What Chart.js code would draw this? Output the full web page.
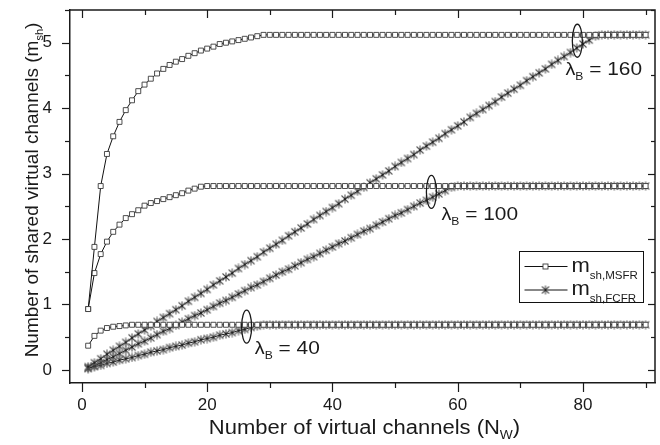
<!DOCTYPE html>
<html>
<head>
<meta charset="utf-8">
<script src="https://cdn.jsdelivr.net/npm/chart.js@4/dist/chart.umd.min.js"></script>
<style>
html,body{margin:0;padding:0;background:#fff;}
#wrap{width:660px;height:445px;position:relative;}
</style>
</head>
<body>
<div id="wrap"><canvas id="c" width="660" height="445"></canvas></div>
<script>
// ---------------- data ----------------
const channels = [
 1,2,3,4,5,6,7,8,9,10,
 11,12,13,14,15,16,17,18,19,20,
 21,22,23,24,25,26,27,28,29,30,
 31,32,33,34,35,36,37,38,39,40,
 41,42,43,44,45,46,47,48,49,50,
 51,52,53,54,55,56,57,58,59,60,
 61,62,63,64,65,66,67,68,69,70,
 71,72,73,74,75,76,77,78,79,80,
 81,82,83,84,85,86,87,88,89,90];

// m_sh,MSFR (squares)
const msfr40 = [
 0.37,0.52,0.60,0.64,0.66,0.67,0.68,0.69,0.69,0.69,
 0.69,0.69,0.69,0.69,0.69,0.69,0.69,0.69,0.69,0.69,
 0.69,0.69,0.69,0.69,0.69,0.69,0.69,0.69,0.69,0.69,
 0.69,0.69,0.69,0.69,0.69,0.69,0.69,0.69,0.69,0.69,
 0.69,0.69,0.69,0.69,0.69,0.69,0.69,0.69,0.69,0.69,
 0.69,0.69,0.69,0.69,0.69,0.69,0.69,0.69,0.69,0.69,
 0.69,0.69,0.69,0.69,0.69,0.69,0.69,0.69,0.69,0.69,
 0.69,0.69,0.69,0.69,0.69,0.69,0.69,0.69,0.69,0.69,
 0.69,0.69,0.69,0.69,0.69,0.69,0.69,0.69,0.69,0.69];
const msfr100 = [
 0.93,1.48,1.77,1.96,2.11,2.22,2.32,2.38,2.44,2.51,
 2.55,2.58,2.61,2.64,2.67,2.70,2.74,2.77,2.80,2.81,
 2.81,2.81,2.81,2.81,2.81,2.81,2.81,2.81,2.81,2.81,
 2.81,2.81,2.81,2.81,2.81,2.81,2.81,2.81,2.81,2.81,
 2.81,2.81,2.81,2.81,2.81,2.81,2.81,2.81,2.81,2.81,
 2.81,2.81,2.81,2.81,2.81,2.81,2.81,2.81,2.81,2.81,
 2.81,2.81,2.81,2.81,2.81,2.81,2.81,2.81,2.81,2.81,
 2.81,2.81,2.81,2.81,2.81,2.81,2.81,2.81,2.81,2.81,
 2.81,2.81,2.81,2.81,2.81,2.81,2.81,2.81,2.81,2.81];
const msfr160 = [
 0.93,1.88,2.81,3.30,3.57,3.79,3.97,4.12,4.26,4.36,
 4.45,4.53,4.60,4.66,4.71,4.75,4.80,4.84,4.88,4.91,
 4.94,4.98,5.00,5.02,5.04,5.06,5.08,5.10,5.12,5.12,
 5.12,5.12,5.12,5.12,5.12,5.12,5.12,5.12,5.12,5.12,
 5.12,5.12,5.12,5.12,5.12,5.12,5.12,5.12,5.12,5.12,
 5.12,5.12,5.12,5.12,5.12,5.12,5.12,5.12,5.12,5.12,
 5.12,5.12,5.12,5.12,5.12,5.12,5.12,5.12,5.12,5.12,
 5.12,5.12,5.12,5.12,5.12,5.12,5.12,5.12,5.12,5.12,
 5.12,5.12,5.12,5.12,5.12,5.12,5.12,5.12,5.12,5.12];

// m_sh,FCFR (asterisks)
const fcfr40 = [
 0.03,0.05,0.07,0.10,0.12,0.15,0.17,0.19,0.22,0.24,
 0.27,0.29,0.31,0.34,0.36,0.38,0.41,0.43,0.46,0.48,
 0.50,0.53,0.55,0.57,0.60,0.62,0.65,0.67,0.69,0.69,
 0.69,0.69,0.69,0.69,0.69,0.69,0.69,0.69,0.69,0.69,
 0.69,0.69,0.69,0.69,0.69,0.69,0.69,0.69,0.69,0.69,
 0.69,0.69,0.69,0.69,0.69,0.69,0.69,0.69,0.69,0.69,
 0.69,0.69,0.69,0.69,0.69,0.69,0.69,0.69,0.69,0.69,
 0.69,0.69,0.69,0.69,0.69,0.69,0.69,0.69,0.69,0.69,
 0.69,0.69,0.69,0.69,0.69,0.69,0.69,0.69,0.69,0.69];
const fcfr100 = [
 0.02,0.06,0.11,0.16,0.20,0.25,0.30,0.35,0.40,0.44,
 0.49,0.54,0.59,0.63,0.68,0.73,0.78,0.83,0.87,0.92,
 0.97,1.02,1.06,1.11,1.16,1.21,1.26,1.30,1.35,1.40,
 1.45,1.50,1.54,1.59,1.64,1.69,1.73,1.78,1.83,1.88,
 1.93,1.97,2.02,2.07,2.12,2.16,2.21,2.26,2.31,2.36,
 2.40,2.45,2.50,2.55,2.59,2.64,2.69,2.74,2.79,2.81,
 2.81,2.81,2.81,2.81,2.81,2.81,2.81,2.81,2.81,2.81,
 2.81,2.81,2.81,2.81,2.81,2.81,2.81,2.81,2.81,2.81,
 2.81,2.81,2.81,2.81,2.81,2.81,2.81,2.81,2.81,2.81];
const fcfr160 = [
 0.05,0.11,0.17,0.24,0.30,0.36,0.42,0.49,0.55,0.61,
 0.67,0.74,0.80,0.86,0.92,0.98,1.05,1.11,1.17,1.23,
 1.30,1.36,1.42,1.48,1.55,1.61,1.67,1.73,1.80,1.86,
 1.92,1.98,2.05,2.11,2.17,2.23,2.30,2.36,2.42,2.48,
 2.54,2.61,2.67,2.73,2.79,2.86,2.92,2.98,3.04,3.11,
 3.17,3.23,3.29,3.36,3.42,3.48,3.54,3.61,3.67,3.73,
 3.79,3.86,3.92,3.98,4.04,4.10,4.17,4.23,4.29,4.35,
 4.42,4.48,4.54,4.60,4.67,4.73,4.79,4.85,4.92,4.98,
 5.04,5.10,5.12,5.12,5.12,5.12,5.12,5.12,5.12,5.12];

const lambdaValues = ['40', '100', '160'];
const xTitle = ['Number of virtual channels (N', 'W', ')'];
const yTitle = ['Number of shared virtual channels (m', 'sh', ')'];
const legendNames = [['m', 'sh,MSFR'], ['m', 'sh,FCFR']];

// ---------------- styling ----------------
const FONT = '"Liberation Sans", Arial, Helvetica, sans-serif';
const INK = '#1a1a1a';
const STRETCH = 1.1;

function makeAsterisk(size, color) {
  const c = document.createElement('canvas');
  c.width = size; c.height = size;
  const g = c.getContext('2d');
  const m = size / 2, r = size / 2 - 0.5, d = r * 0.78;
  g.strokeStyle = color; g.lineWidth = 1.1;
  g.beginPath();
  g.moveTo(m, m - r); g.lineTo(m, m + r);
  g.moveTo(m - d, m - d); g.lineTo(m + d, m + d);
  g.moveTo(m + d, m - d); g.lineTo(m - d, m + d);
  g.stroke();
  g.fillStyle = '#222';
  g.fillRect(m - 1, m - 1, 2, 2);
  return c;
}
const astImg = makeAsterisk(10, '#555');

const pts = arr => channels.map((n, i) => ({x: n, y: arr[i]}));

const squareDS = (label, arr) => ({
  label, data: pts(arr), showLine: true,
  borderColor: '#111', borderWidth: 1, tension: 0,
  pointStyle: 'rect', pointRadius: 3.5, pointHoverRadius: 3.5,
  pointBackgroundColor: '#fff', pointBorderColor: '#3a3a3a', pointBorderWidth: 0.9
});
const starDS = (label, arr) => ({
  label, data: pts(arr), showLine: true,
  borderColor: '#111', borderWidth: 1, tension: 0,
  pointStyle: astImg, pointRadius: 4, pointHoverRadius: 4
});

// annotation placement (data units) for the lambda_B markers
const lambdaNotes = [
  {cx: 26.3, cy: 0.66, lx: 27.6, ly: 0.24},
  {cx: 55.8, cy: 2.72, lx: 57.4, ly: 2.29},
  {cx: 79.1, cy: 5.03, lx: 77.2, ly: 4.51}
];

function drawRich(ctx, parts, x, y, align, stretch) {
  let w = 0;
  for (const p of parts) { ctx.font = p.size + 'px ' + FONT; w += ctx.measureText(p.t).width; }
  ctx.save();
  ctx.translate(x, y);
  ctx.scale(stretch, 1);
  let cx = align === 'center' ? -w / 2 : (align === 'right' ? -w : 0);
  ctx.textAlign = 'left';
  ctx.textBaseline = 'alphabetic';
  for (const p of parts) {
    ctx.font = p.size + 'px ' + FONT;
    ctx.fillText(p.t, cx, p.dy || 0);
    cx += ctx.measureText(p.t).width;
  }
  ctx.restore();
}

const decor = {
  id: 'decor',
  afterDraw(chart) {
    const {ctx, chartArea: a, scales: {x, y}} = chart;
    ctx.save();
    ctx.strokeStyle = INK;
    ctx.fillStyle = INK;
    ctx.lineWidth = 1.5;
    ctx.beginPath();
    ctx.moveTo(a.left - 0.75, a.top); ctx.lineTo(a.right, a.top);
    ctx.lineTo(a.right, a.bottom);
    ctx.stroke();
    ctx.lineWidth = 1.2;
    const seg = (x1, y1, x2, y2) => { ctx.beginPath(); ctx.moveTo(x1, y1); ctx.lineTo(x2, y2); ctx.stroke(); };
    for (let v = 0; v <= x.max + 1e-9; v += 10) {
      const px = Math.round(x.getPixelForValue(v)) + 0.5;
      const major = v % 20 === 0;
      seg(px, a.bottom, px, a.bottom + (major ? 9 : 5));
      seg(px, a.top, px, a.top + (major ? 8 : 5));
    }
    for (let k = 0; k * 0.5 <= y.max + 1e-9; k++) {
      const v = k * 0.5;
      const py = Math.round(y.getPixelForValue(v)) + 0.5;
      const major = k % 2 === 0;
      seg(a.left, py, a.left - (major ? 8 : 5), py);
      seg(a.right, py, a.right - (major ? 7 : 4), py);
    }
    ctx.lineWidth = 1.3;
    lambdaNotes.forEach((n, i) => {
      const ex = x.getPixelForValue(n.cx), ey = y.getPixelForValue(n.cy);
      ctx.beginPath(); ctx.ellipse(ex, ey, 5, 16.5, 0, 0, Math.PI * 2); ctx.stroke();
      drawRich(ctx, [
        {t: 'λ', size: 18},
        {t: 'B', size: 11, dy: 5},
        {t: ' = ' + lambdaValues[i], size: 19}
      ], x.getPixelForValue(n.lx), y.getPixelForValue(n.ly), 'left', STRETCH);
    });
    // legend
    const lx = a.right - 135.5, ly = a.top + 241.5;
    ctx.lineWidth = 1;
    ctx.strokeStyle = '#111';
    ctx.strokeRect(lx, ly, 124, 51);
    const rows = [ly + 15, ly + 38.5];
    rows.forEach((ry, i) => {
      ctx.lineWidth = 1;
      ctx.strokeStyle = '#111';
      seg(lx + 5, ry, lx + 48, ry);
      if (i === 0) {
        ctx.fillStyle = '#fff';
        ctx.fillRect(lx + 23.5, ry - 2.5, 5, 5);
        ctx.strokeStyle = '#3a3a3a'; ctx.lineWidth = 0.9;
        ctx.strokeRect(lx + 23.5, ry - 2.5, 5, 5);
      } else {
        ctx.drawImage(astImg, lx + 26 - 5, ry - 5);
      }
      ctx.fillStyle = INK;
      drawRich(ctx, [
        {t: legendNames[i][0], size: 20},
        {t: legendNames[i][1], size: 10.5, dy: 7}
      ], lx + 52, ry + 5, 'left', STRETCH);
    });
    ctx.fillStyle = INK;
    drawRich(ctx, [
      {t: xTitle[0], size: 20},
      {t: xTitle[1], size: 12.5, dy: 5},
      {t: xTitle[2], size: 20}
    ], (a.left + a.right) / 2 + 2, 434, 'center', STRETCH);
    ctx.save();
    ctx.translate(38, a.top + 180);
    ctx.rotate(-Math.PI / 2);
    drawRich(ctx, [
      {t: yTitle[0], size: 19},
      {t: yTitle[1], size: 11, dy: 5},
      {t: yTitle[2], size: 19}
    ], 0, 0, 'center', 1);
    ctx.restore();
    ctx.restore();
  }
};

new Chart(document.getElementById('c'), {
  type: 'scatter',
  data: {
    datasets: [
      squareDS('m_sh,MSFR λB=160', msfr160),
      squareDS('m_sh,MSFR λB=100', msfr100),
      squareDS('m_sh,MSFR λB=40', msfr40),
      starDS('m_sh,FCFR λB=160', fcfr160),
      starDS('m_sh,FCFR λB=100', fcfr100),
      starDS('m_sh,FCFR λB=40', fcfr40)
    ]
  },
  options: {
    responsive: false,
    animation: false,
    devicePixelRatio: 1,
    layout: {padding: {top: 10, right: -1, left: 0, bottom: 0}},
    plugins: {legend: {display: false}, tooltip: {enabled: false}},
    scales: {
      x: {
        type: 'linear', min: -1.9, max: 91.5,
        afterFit(s) { s.height = 62; s.paddingLeft = 0; s.paddingRight = 0; },
        grid: {display: false, drawTicks: false},
        border: {display: true, color: INK, width: 1.5},
        ticks: {stepSize: 20, includeBounds: false, autoSkip: false, maxRotation: 0,
                font: {family: FONT, size: 17}, color: INK, padding: 12,
                callback: v => String(v)}
      },
      y: {
        type: 'linear', min: -0.2, max: 5.5,
        afterFit(s) { s.width = 70; s.paddingTop = 0; s.paddingBottom = 0; },
        grid: {display: false, drawTicks: false},
        border: {display: true, color: INK, width: 1.5},
        ticks: {stepSize: 1, includeBounds: false,
                font: {family: FONT, size: 17}, color: INK, padding: 18,
                callback: v => String(v)}
      }
    }
  },
  plugins: [decor]
});
</script>
</body>
</html>
